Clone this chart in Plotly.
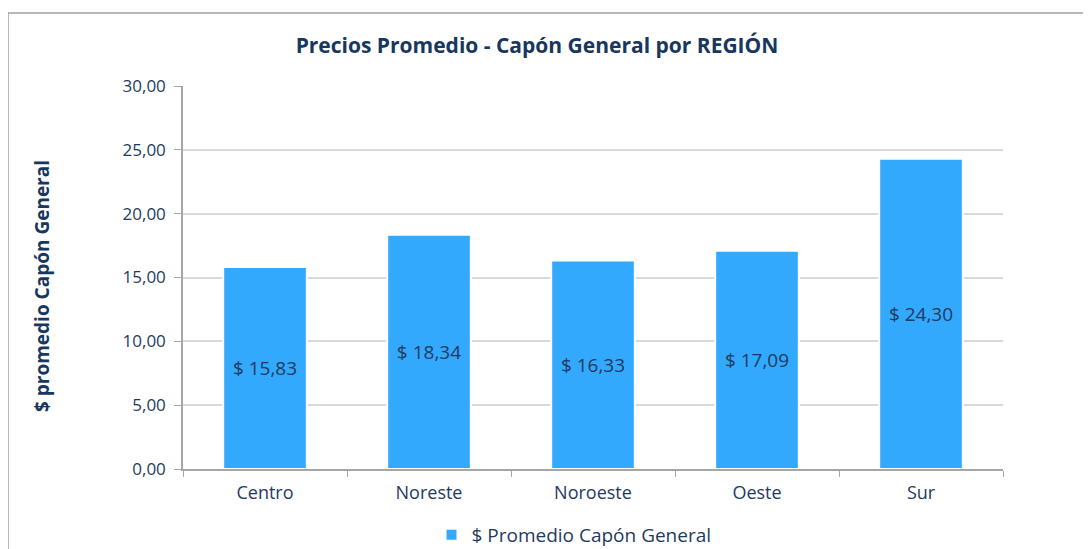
import plotly.graph_objects as go

regions = ["Centro", "Noreste", "Noroeste", "Oeste", "Sur"]
precios = [15.83, 18.34, 16.33, 17.09, 24.30]
y_ticks = [0, 5, 10, 15, 20, 25, 30]

OFF = 8  # page body margin
W, H = 1091 - OFF, 549 - OFF
L, R, T, B = 183 - OFF, 1091 - 1003, 86 - OFF, 549 - 469
pw, ph = W - L - R, H - T - B

def px_x(px):
    return (px - OFF - L) / pw

def px_y(py):
    return (H - B - (py - OFF)) / ph

navy = "#1F3A60"
fnt = "Open Sans"

fig = go.Figure()
fig.add_trace(go.Bar(
    x=regions, y=precios,
    name="$ Promedio Capón General",
    marker=dict(color="#33A9FE", line=dict(color="white", width=2)),
    width=0.51,
    texttemplate="$ %{y:.2f}",
    textposition="inside",
    insidetextanchor="middle",
    textfont=dict(family=fnt, size=19, color=navy),
    cliponaxis=False,
))

fig.update_layout(
    width=W, height=H,
    margin=dict(l=L, r=R, t=T, b=B),
    paper_bgcolor="white", plot_bgcolor="white",
    separators=",.",
    font=dict(family=fnt, color=navy, size=17),
    title=dict(text="<b>Precios Promedio - Capón General por REGIÓN</b>",
               x=px_x(537), xref="paper", xanchor="center",
               y=1 - (46 - OFF) / H, yref="container", yanchor="middle",
               font=dict(family=fnt, size=21, color="#17375E")),
    showlegend=True,
    legend=dict(orientation="h", x=px_x(574), xanchor="center",
                y=1 - (535 - OFF) / H, yref="container", yanchor="middle",
                font=dict(family=fnt, size=19, color=navy),
                itemwidth=30),
    xaxis=dict(
        showline=True, linecolor="#A6A6A6", linewidth=1.5,
        ticks="outside", tickson="boundaries", ticklen=6, tickcolor="#A6A6A6",
        tickfont=dict(family=fnt, size=18, color=navy),
        ticklabelstandoff=7,
        showgrid=False,
    ),
    yaxis=dict(
        range=[0, 30], tickvals=y_ticks, tickformat=".2f",
        showline=True, linecolor="#A6A6A6", linewidth=1.5,
        ticks="outside", ticklen=7, tickcolor="#A6A6A6",
        ticklabelstandoff=5,
        showgrid=True, gridcolor="#D9D9D9", gridwidth=1.5,
        tickfont=dict(family=fnt, size=17, color=navy),
        zeroline=False,
    ),
    annotations=[dict(
        text="<b>$ promedio Capón General</b>", textangle=-90,
        x=px_x(42), y=px_y(286), xref="paper", yref="paper",
        xanchor="center", yanchor="middle",
        showarrow=False, font=dict(family=fnt, size=19, color="#17375E"),
    )],
    shapes=[
        dict(type="line", xref="paper", yref="paper",
             x0=px_x(8), x1=px_x(8), y0=px_y(13), y1=px_y(570),
             line=dict(color="#A0A0A0", width=1.5)),
        dict(type="line", xref="paper", yref="paper",
             x0=px_x(8), x1=px_x(1110), y0=px_y(13), y1=px_y(13),
             line=dict(color="#A0A0A0", width=1.5)),
    ],
)

fig.write_html("out.html")
